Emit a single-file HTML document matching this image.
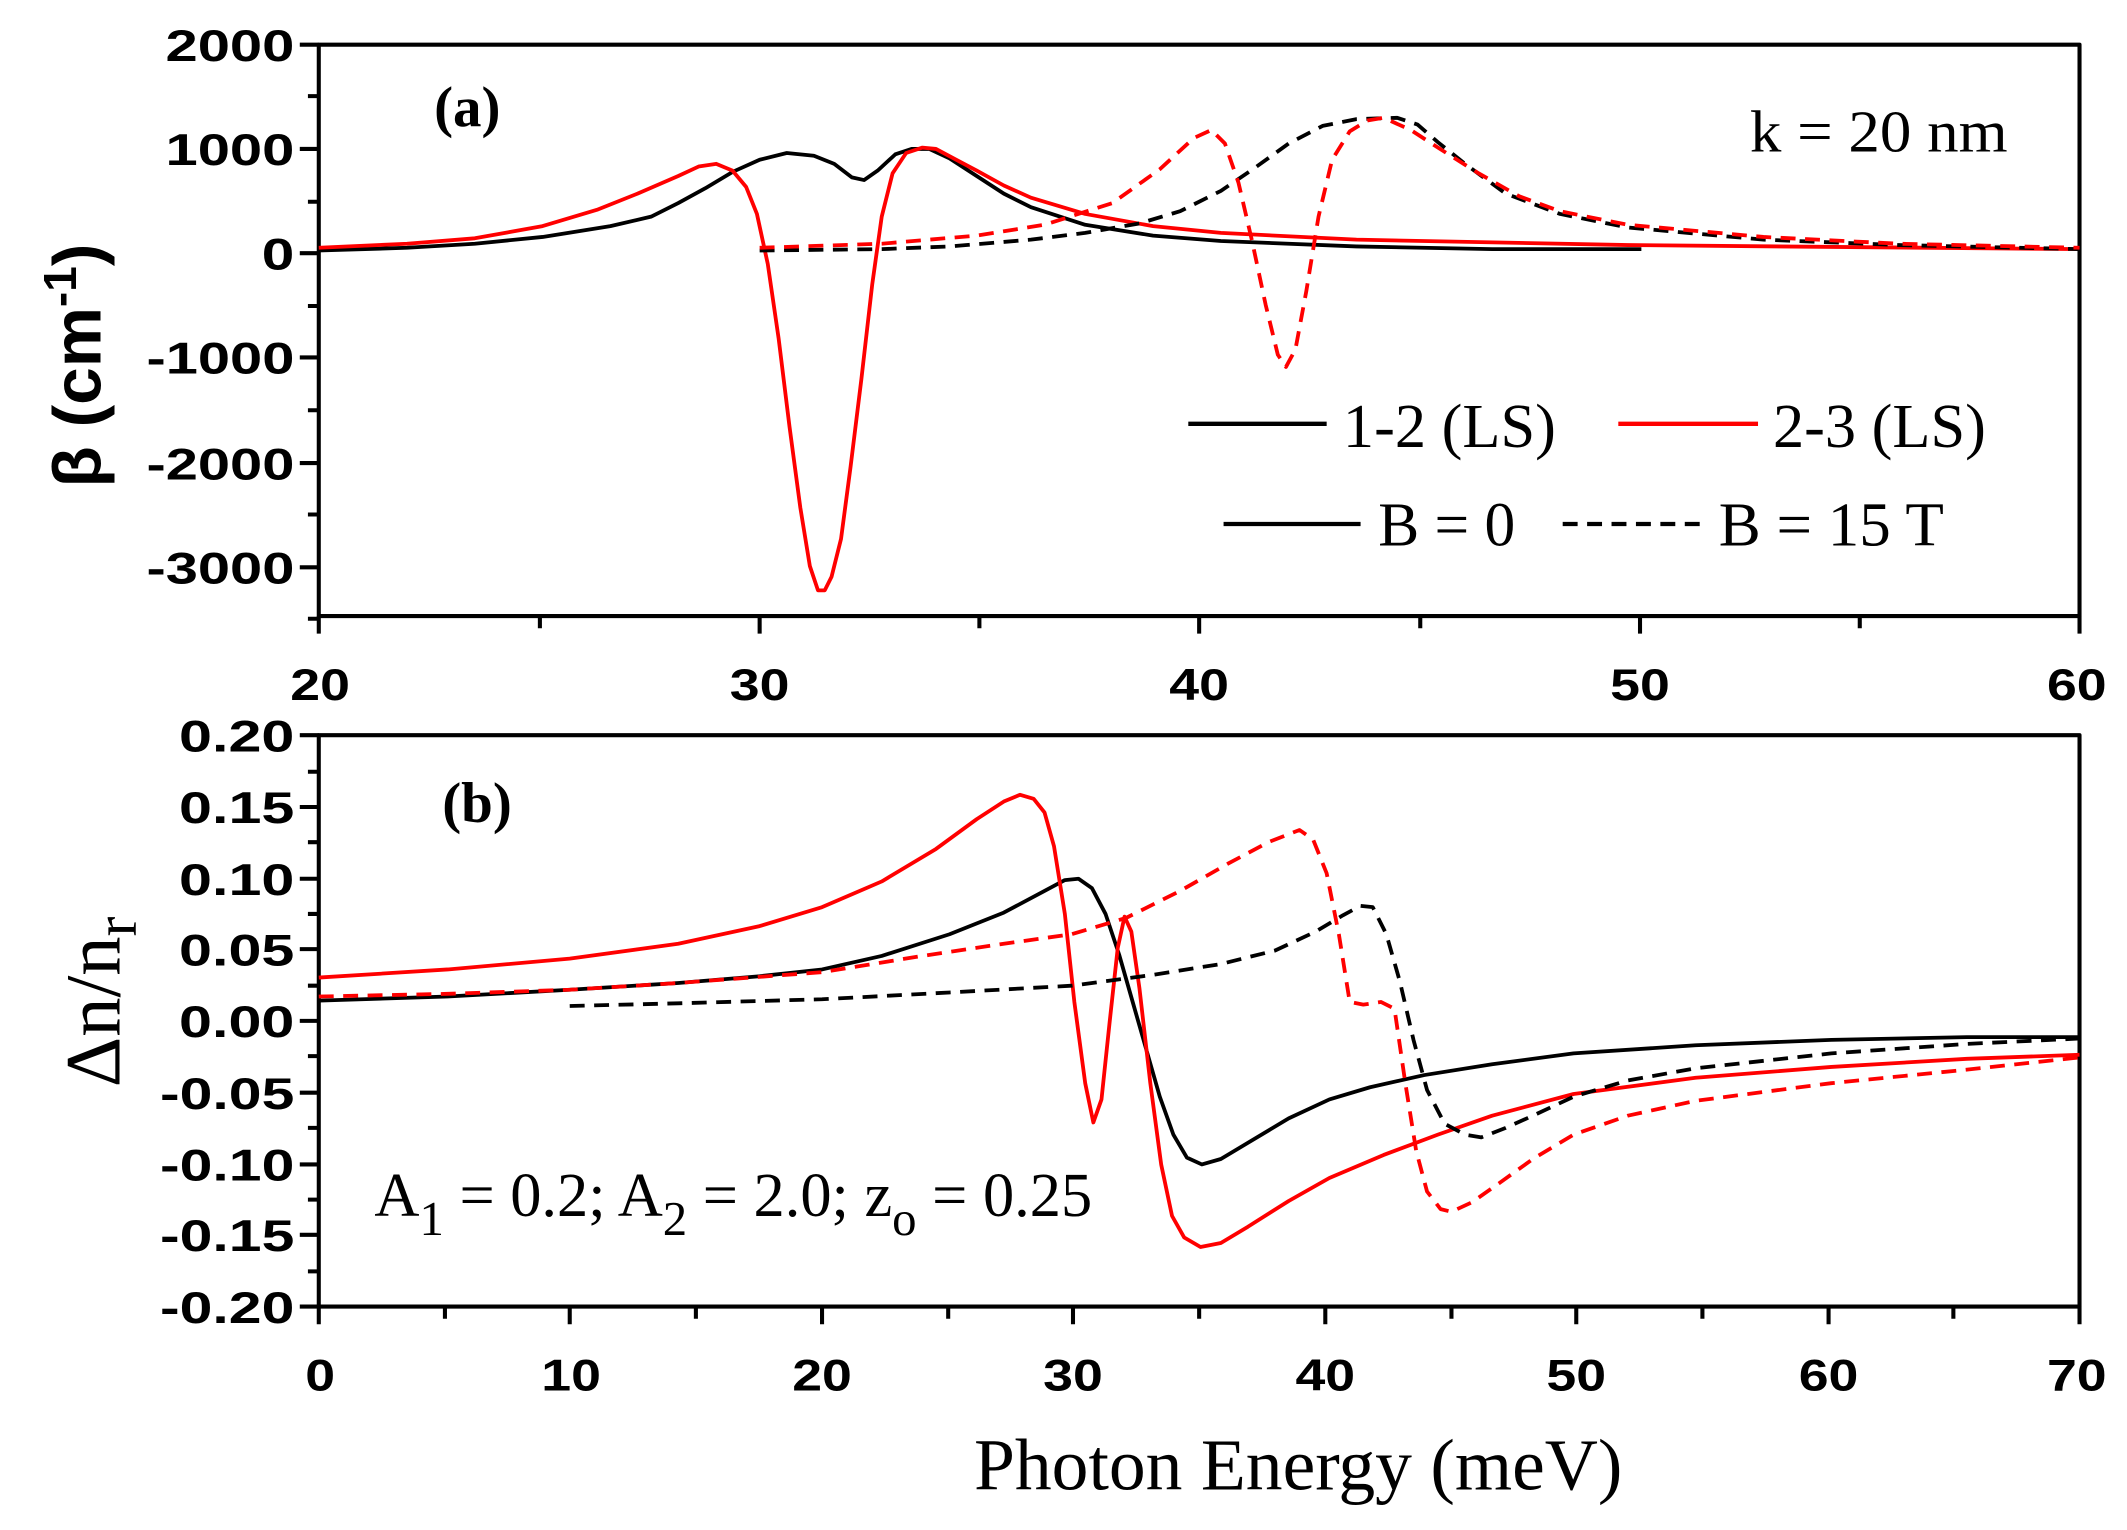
<!DOCTYPE html>
<html><head><meta charset="utf-8"><style>
html,body{margin:0;padding:0;background:#fff;}
svg{display:block;}
.tk{font-family:"Liberation Sans",Arial,sans-serif;font-weight:bold;font-size:33px;fill:#000;}
.tm{font-family:"Liberation Serif","Times New Roman",serif;fill:#000;}
</style></head><body>
<svg width="2127" height="1530" viewBox="0 0 1568 1130" preserveAspectRatio="none" xmlns="http://www.w3.org/2000/svg">
<g fill="none" stroke-linejoin="round" stroke-linecap="butt">
<rect x="235" y="33" width="1298" height="422" stroke="#000" stroke-width="3"/>
<path stroke="#000" stroke-width="3" d="M221 33H235M221 110H235M221 187H235M221 264H235M221 342H235M221 419H235
M227 71H235M227 149H235M227 226H235M227 303H235M227 380H235M227 457H235
M235 455V468M560 455V468M884 455V468M1209 455V468M1533 455V468
M398 455V464M722 455V464M1047 455V464M1371 455V464"/>
<rect x="235" y="543" width="1298" height="422" stroke="#000" stroke-width="3"/>
<path stroke="#000" stroke-width="3" d="M221 543H235M221 596H235M221 649H235M221 701H235M221 754H235M221 807H235M221 860H235M221 912H235M221 965H235
M227 570H235M227 622H235M227 675H235M227 728H235M227 780H235M227 833H235M227 886H235M227 939H235
M235 965V978M420 965V978M606 965V978M791 965V978M977 965V978M1162 965V978M1348 965V978M1533 965V978
M328 965V974M513 965V974M699 965V974M884 965V974M1070 965V974M1255 965V974M1440 965V974"/>

<polyline stroke="#000" stroke-width="2.8" points="235,185 300,183 350,180 400,175 450,167 480,160 500,150 520,139 540,127 560,118 580,113 600,115 615,121 628,131 637,133 647,126 660,114 672,110 685,110 700,117 720,130 740,143 760,153 800,166 850,174 900,178 1000,182 1100,184 1210,184"/>
<polyline stroke="#f00" stroke-width="2.8" points="235,183 300,180 350,176 400,167 440,155 470,143 500,130 515,123 528,121 540,126 550,138 558,158 566,195 574,250 582,315 590,375 597,418 603,436 608,436 613,426 620,398 627,345 635,280 643,210 650,160 658,128 668,113 680,109 690,110 705,118 720,126 740,137 760,146 800,158 850,167 900,172 1000,177 1200,181 1533,184"/>
<polyline stroke="#000" stroke-width="2.8" stroke-dasharray="11 7" points="560,185 650,184 700,182 760,177 800,172 840,165 870,156 900,141 925,124 950,106 975,93 1000,88 1030,87 1045,92 1060,105 1080,121 1110,143 1150,158 1200,168 1300,177 1400,181 1533,184"/>
<polyline stroke="#f00" stroke-width="2.8" stroke-dasharray="11 7" points="560,183 650,180 720,174 770,166 820,150 855,125 880,102 893,96 903,106 913,135 923,178 933,225 942,262 948,271 955,258 963,215 972,160 982,118 995,97 1008,89 1020,87 1040,96 1060,109 1090,128 1120,145 1150,156 1200,166 1300,175 1400,180 1533,183"/>

<polyline stroke="#000" stroke-width="2.8" points="235,739 330,736 420,731 500,726 560,721 606,716 650,706 700,690 740,674 770,658 785,650 795,649 805,656 815,675 825,705 835,740 845,775 855,810 865,838 875,855 886,860 900,856 920,844 950,826 980,812 1010,803 1050,794 1100,786 1160,778 1250,772 1350,768 1450,766 1533,766"/>
<polyline stroke="#f00" stroke-width="2.8" points="235,722 330,716 420,708 500,697 560,684 606,670 650,651 690,627 720,605 740,592 752,587 762,590 770,600 777,625 785,675 792,740 800,800 806,829 812,812 818,755 824,700 829,677 834,688 840,730 848,800 856,860 864,898 873,914 885,921 900,918 920,906 950,887 980,870 1020,853 1060,838 1100,824 1160,808 1250,796 1350,788 1450,782 1533,779"/>
<polyline stroke="#000" stroke-width="2.8" stroke-dasharray="11 7" points="420,743 500,741 606,738 700,733 790,728 850,720 900,712 940,702 970,688 990,676 1003,669 1012,670 1022,690 1032,725 1042,768 1052,805 1065,830 1080,838 1092,840 1110,833 1130,824 1160,810 1200,798 1250,789 1350,778 1450,771 1533,767"/>
<polyline stroke="#f00" stroke-width="2.8" stroke-dasharray="11 7" points="235,736 330,734 420,731 500,726 606,718 680,706 740,697 790,690 830,678 870,658 905,638 935,622 958,613 968,620 978,645 987,690 995,740 1005,742 1018,740 1028,745 1036,800 1044,850 1052,880 1062,893 1070,895 1085,888 1105,874 1130,856 1160,838 1200,824 1250,813 1350,800 1450,790 1533,781"/>

<line x1="876" y1="313" x2="978" y2="313" stroke="#000" stroke-width="3.2"/>
<line x1="1193" y1="313" x2="1296" y2="313" stroke="#f00" stroke-width="3.2"/>
<line x1="902" y1="387" x2="1003" y2="387" stroke="#000" stroke-width="3.2"/>
<line x1="1152" y1="387" x2="1256" y2="387" stroke="#000" stroke-width="3.2" stroke-dasharray="11 7"/>
</g>

<g class="tk" text-anchor="end" lengthAdjust="spacingAndGlyphs">
<text x="217" y="45" textLength="95" lengthAdjust="spacingAndGlyphs">2000</text>
<text x="217" y="122" textLength="95" lengthAdjust="spacingAndGlyphs">1000</text>
<text x="217" y="199" textLength="24" lengthAdjust="spacingAndGlyphs">0</text>
<text x="217" y="276" textLength="109" lengthAdjust="spacingAndGlyphs">-1000</text>
<text x="217" y="354" textLength="109" lengthAdjust="spacingAndGlyphs">-2000</text>
<text x="217" y="431" textLength="109" lengthAdjust="spacingAndGlyphs">-3000</text>
</g>
<g class="tk" text-anchor="middle">
<text x="236" y="517" textLength="44" lengthAdjust="spacingAndGlyphs">20</text>
<text x="560" y="517" textLength="44" lengthAdjust="spacingAndGlyphs">30</text>
<text x="884" y="517" textLength="44" lengthAdjust="spacingAndGlyphs">40</text>
<text x="1209" y="517" textLength="44" lengthAdjust="spacingAndGlyphs">50</text>
<text x="1531" y="517" textLength="44" lengthAdjust="spacingAndGlyphs">60</text>
</g>
<g class="tk" text-anchor="end">
<text x="217" y="555" textLength="85" lengthAdjust="spacingAndGlyphs">0.20</text>
<text x="217" y="608" textLength="85" lengthAdjust="spacingAndGlyphs">0.15</text>
<text x="217" y="661" textLength="85" lengthAdjust="spacingAndGlyphs">0.10</text>
<text x="217" y="713" textLength="85" lengthAdjust="spacingAndGlyphs">0.05</text>
<text x="217" y="766" textLength="85" lengthAdjust="spacingAndGlyphs">0.00</text>
<text x="217" y="819" textLength="99" lengthAdjust="spacingAndGlyphs">-0.05</text>
<text x="217" y="872" textLength="99" lengthAdjust="spacingAndGlyphs">-0.10</text>
<text x="217" y="924" textLength="99" lengthAdjust="spacingAndGlyphs">-0.15</text>
<text x="217" y="977" textLength="99" lengthAdjust="spacingAndGlyphs">-0.20</text>
</g>
<g class="tk" text-anchor="middle">
<text x="236" y="1027" textLength="22" lengthAdjust="spacingAndGlyphs">0</text>
<text x="421" y="1027" textLength="44" lengthAdjust="spacingAndGlyphs">10</text>
<text x="606" y="1027" textLength="44" lengthAdjust="spacingAndGlyphs">20</text>
<text x="791" y="1027" textLength="44" lengthAdjust="spacingAndGlyphs">30</text>
<text x="977" y="1027" textLength="44" lengthAdjust="spacingAndGlyphs">40</text>
<text x="1162" y="1027" textLength="44" lengthAdjust="spacingAndGlyphs">50</text>
<text x="1348" y="1027" textLength="44" lengthAdjust="spacingAndGlyphs">60</text>
<text x="1531" y="1027" textLength="44" lengthAdjust="spacingAndGlyphs">70</text>
</g>

<text transform="translate(74,270) rotate(-90)" text-anchor="middle" style="font-family:'Liberation Sans',Arial,sans-serif;font-weight:bold;font-size:50px;">β (cm<tspan dy="-18" font-size="34">-1</tspan><tspan dy="18">)</tspan></text>
<text class="tm" transform="translate(88,740) rotate(-90)" text-anchor="middle" font-size="58">Δn/n<tspan dy="12" font-size="44">r</tspan></text>
<text class="tm" x="957" y="1100" text-anchor="middle" font-size="54" textLength="478" lengthAdjust="spacingAndGlyphs">Photon Energy (meV)</text>

<text class="tm" x="320" y="93" font-size="42" font-weight="bold">(a)</text>
<text class="tm" x="326" y="607" font-size="42" font-weight="bold">(b)</text>
<text class="tm" x="1290" y="112" font-size="44" textLength="190" lengthAdjust="spacingAndGlyphs">k = 20 nm</text>
<text class="tm" x="990" y="330" font-size="46" textLength="157" lengthAdjust="spacingAndGlyphs">1-2 (LS)</text>
<text class="tm" x="1307" y="330" font-size="46" textLength="157" lengthAdjust="spacingAndGlyphs">2-3 (LS)</text>
<text class="tm" x="1016" y="403" font-size="46" textLength="101" lengthAdjust="spacingAndGlyphs">B = 0</text>
<text class="tm" x="1267" y="403" font-size="46" textLength="166" lengthAdjust="spacingAndGlyphs">B = 15 T</text>
<text class="tm" x="276" y="898" font-size="46">A<tspan dy="14" font-size="36">1</tspan><tspan dy="-14"> = 0.2; A</tspan><tspan dy="14" font-size="36">2</tspan><tspan dy="-14"> = 2.0; z</tspan><tspan dy="14" font-size="36">o</tspan><tspan dy="-14"> = 0.25</tspan></text>
</svg>
</body></html>
